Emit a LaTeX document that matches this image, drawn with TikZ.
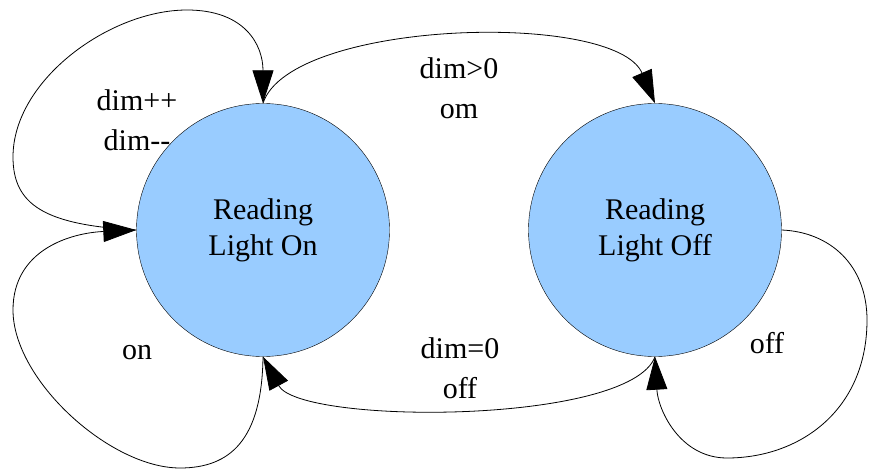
\documentclass[tikz,border=0pt]{standalone}
\usepackage{fontspec}
\setmainfont{Liberation Serif}
\usetikzlibrary{arrows.meta}
\definecolor{lampblue}{RGB}{153,204,255}
\tikzset{
  lamp/.style={circle, draw, fill=lampblue, minimum size=253pt, inner sep=0pt,
    align=center, font=\fontsize{30}{36}\selectfont},
  trans/.style={-{Triangle[length=33pt,width=21pt]}, line width=0.8pt},
  cond/.style={align=center, font=\fontsize{30}{40}\selectfont}
}

\begin{document}
\begin{tikzpicture}[x=1pt, y=-1pt]
  \useasboundingbox (0,0) rectangle (869,470);

  % label sits under the circle
  \node[cond] (dimlbl) at (137,120) {dim++\\dim-{}-};

  \node[lamp] (lighton) at (263,230) {Reading\\Light On};
  \node[lamp] (lightoff) at (655,230) {Reading\\Light Off};

  % self loops of the on state
  \draw[trans] (lighton.west) .. controls (45,225) and (13,205) .. (13,157)
    .. controls (13,80) and (110,10) .. (187,10)
    .. controls (245,10) and (263,45) .. (lighton.north);
  \draw[trans] (lighton.south) .. controls (262,440) and (230,468) .. (180,468)
    .. controls (110,468) and (13,380) .. (13,310)
    .. controls (13,250) and (70,233) .. (lighton.west);

  % between the states
  \draw[trans] (lighton.north) .. controls (290,20) and (615,10) .. (lightoff.north);
  \draw[trans] (lightoff.south) .. controls (630,425) and (300,425) .. (lighton.south);

  % self loop of the off state
  \draw[trans] (lightoff.east) .. controls (830,232) and (867,265) .. (867,320)
    .. controls (867,410) and (800,458) .. (727,458)
    .. controls (680,458) and (658,410) .. (lightoff.south);

  \node[cond] (upperlbl) at (459,88) {dim>0\\om};
  \node[cond] (lowerlbl) at (460,368) {dim=0\\off};
  \node[cond] (onlbl) at (137,353) {on};
  \node[cond] (offlbl) at (767,343) {off};
\end{tikzpicture}
\end{document}
